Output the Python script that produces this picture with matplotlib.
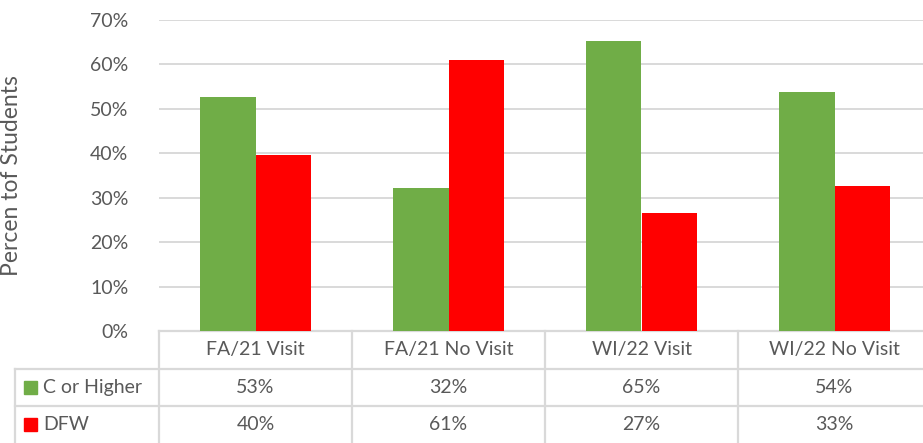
import numpy as np
import matplotlib.pyplot as plt
from matplotlib.patches import Rectangle
from matplotlib.transforms import blended_transform_factory

categories = ['FA/21 Visit', 'FA/21 No Visit', 'WI/22 Visit', 'WI/22 No Visit']
series_names = ['C or Higher', 'DFW']
c_or_higher = [0.526, 0.321, 0.653, 0.538]
dfw = [0.396, 0.609, 0.266, 0.326]
colors = ['#70AD47', '#FF0000']
yticks = [0, 0.1, 0.2, 0.3, 0.4, 0.5, 0.6, 0.7]

text_color = '#595959'
line_color = '#D9D9D9'
plt.rcParams['font.family'] = ['Lato', 'DejaVu Sans']
fs = 14

W, H = 923, 443
fig = plt.figure(figsize=(W / 100, H / 100), dpi=100)
# plot area in pixels: x 159..931 (right part clipped by the image), y 20..331
ax = fig.add_axes([159 / W, (H - 331) / H, 772 / W, 311 / H])

x = np.arange(len(categories))
bw = 0.285
ax.bar(x - bw / 2, c_or_higher, bw, color=colors[0], zorder=3)
ax.bar(x + bw / 2, dfw, bw, color=colors[1], zorder=3)

ax.set_xlim(-0.5, len(categories) - 0.5)
ax.set_ylim(0, 0.7)
ax.set_yticks(yticks)
ax.set_yticklabels([f'{t:.0%}' for t in yticks], fontsize=fs, color=text_color)
ax.tick_params(axis='y', length=0, pad=22)
ax.set_xticks([])
ax.grid(axis='y', color=line_color, linewidth=1.4, zorder=0)
for s in ax.spines.values():
    s.set_visible(False)
ax.set_ylabel('Percen tof Students', fontsize=16.5, color=text_color)
ax.yaxis.set_label_coords((22 - 159) / 772, 0.5)

# data table below the plot
row_h = 37.5 / 311
tr = blended_transform_factory(ax.transData, ax.transAxes)
left = (15 - 159) / 772
lk = dict(color=line_color, linewidth=1.6, clip_on=False)

ax.plot([-0.5, len(categories) - 0.5], [0, 0], transform=tr, **lk)
for r in (1, 2):
    ax.plot([left, 1], [-r * row_h, -r * row_h], transform=ax.transAxes, **lk)
for b in np.arange(len(categories) + 1) - 0.5:
    ax.plot([b, b], [0, -3 * row_h], transform=tr, **lk)
ax.plot([left, left], [-row_h, -3 * row_h], transform=ax.transAxes, **lk)

for i, cat in enumerate(categories):
    ax.text(i, -0.5 * row_h, cat, transform=tr, ha='center', va='center',
            fontsize=fs, color=text_color, clip_on=False)

for r, (name, vals, col) in enumerate(zip(series_names, [c_or_higher, dfw], colors)):
    yc = -(r + 1.5) * row_h
    for i, v in enumerate(vals):
        ax.text(i, yc, f'{v:.0%}', transform=tr, ha='center', va='center',
                fontsize=fs, color=text_color, clip_on=False)
    ax.add_patch(Rectangle(((24 - 159) / 772, yc - 6.5 / 311), 13 / 772, 13 / 311,
                           transform=ax.transAxes, color=col, clip_on=False))
    ax.text((43 - 159) / 772, yc, name, transform=ax.transAxes, ha='left',
            va='center', fontsize=fs, color=text_color, clip_on=False)

fig.savefig('out.png', dpi=100)
